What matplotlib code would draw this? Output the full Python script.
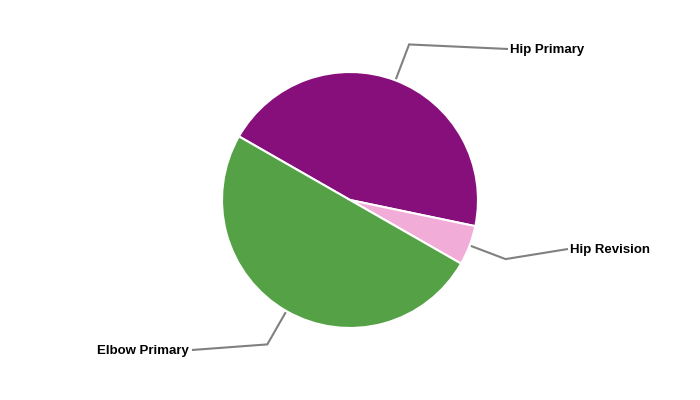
import numpy as np
import matplotlib
matplotlib.use("Agg")
import matplotlib.pyplot as plt

labels = ["Hip Primary", "Hip Revision", "Elbow Primary"]
values = [45, 5, 50]
colors = ["#870f7b", "#f2acd8", "#55a146"]

# label text anchor positions (pixel space of the 700x400 figure, y up)
label_x = [510, 570, 189]
label_y = [350, 150, 49]
label_ha = ["left", "left", "right"]

fig = plt.figure(figsize=(7, 4), dpi=100)
ax = fig.add_axes([0, 0, 1, 1])
cx, cy, R = 350, 200, 128
start = 150.2
wedges, _ = ax.pie(values, colors=colors, startangle=start, counterclock=False,
                   center=(cx, cy), radius=R,
                   wedgeprops=dict(edgecolor="white", linewidth=1.5))
ax.set_xlim(0, 700)
ax.set_ylim(0, 400)
ax.set_aspect("equal")
ax.axis("off")

for w, lab, tx, ty, ha in zip(wedges, labels, label_x, label_y, label_ha):
    mid = np.deg2rad((w.theta1 + w.theta2) / 2)
    c, s = np.cos(mid), np.sin(mid)
    p0 = (cx + 1.01 * R * c, cy + 1.01 * R * s)
    p1 = (cx + 1.3 * R * c, cy + 1.3 * R * s)
    ex = tx - 2 if ha == "left" else tx + 3
    p2 = (ex, ty + 1)
    ax.plot([p0[0], p1[0], p2[0]], [p0[1], p1[1], p2[1]], color="#808080", lw=1.5,
            solid_capstyle="butt", solid_joinstyle="miter")
    ax.text(tx, ty, lab, ha=ha, va="center", fontsize=9.5, fontweight="bold",
            family="Liberation Sans", color="black")

fig.savefig("out.png", dpi=100)
